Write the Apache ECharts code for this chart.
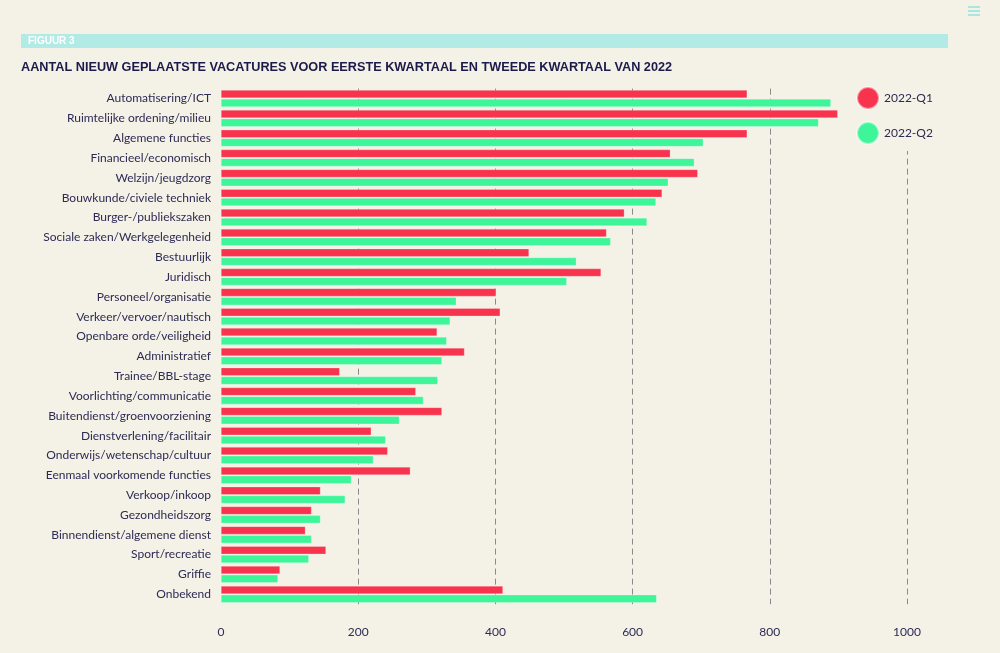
<!DOCTYPE html>
<html><head><meta charset="utf-8">
<script src="https://cdn.jsdelivr.net/npm/echarts@6/dist/echarts.min.js"></script>
<style>html,body{margin:0;padding:0;background:#f4f1e6;}#c{width:1000px;height:653px;}</style>
</head><body><div id="c"></div>
<script>
const categories = ["Automatisering/ICT","Ruimtelijke ordening/milieu","Algemene functies","Financieel/economisch","Welzijn/jeugdzorg","Bouwkunde/civiele techniek","Burger-/publiekszaken","Sociale zaken/Werkgelegenheid","Bestuurlijk","Juridisch","Personeel/organisatie","Verkeer/vervoer/nautisch","Openbare orde/veiligheid","Administratief","Trainee/BBL-stage","Voorlichting/communicatie","Buitendienst/groenvoorziening","Dienstverlening/facilitair","Onderwijs/wetenschap/cultuur","Eenmaal voorkomende functies","Verkoop/inkoop","Gezondheidszorg","Binnendienst/algemene dienst","Sport/recreatie","Griffie","Onbekend"];
const q1 = [767,899,767,655,695,643,588,562,449,554,401,407,315,355,173,284,322,219,243,276,145,132,123,153,86,411];
const q2 = [889,871,703,690,652,634,621,568,518,504,343,334,329,322,316,295,260,240,222,190,181,145,132,128,83,635];
const xTicks = [0,200,400,600,800,1000];
const seriesNames = ["2022-Q1","2022-Q2"];

const chart = echarts.init(document.getElementById('c'));
const textColor = '#2d2a55';
chart.setOption({
  backgroundColor: '#f4f1e6',
  animation: false,
  graphic: [
    {type:'rect', shape:{x:21,y:34,width:927,height:14}, style:{fill:'#b2ebe5'}},
    {type:'text', left:28, top:36, style:{text:'FIGUUR 3', fill:'#ffffff', font:'bold 10px "Liberation Sans", Arial', }},
    {type:'text', left:21, top:61, style:{text:'AANTAL NIEUW GEPLAATSTE VACATURES VOOR EERSTE KWARTAAL EN TWEEDE KWARTAAL VAN 2022', fill:'#1b1a4b', font:'bold 12.7px "Liberation Sans", Arial'}},
    {type:'rect', shape:{x:968,y:6,width:12,height:2}, style:{fill:'#a8e6df'}},
    {type:'rect', shape:{x:968,y:10,width:12,height:2}, style:{fill:'#a8e6df'}},
    {type:'rect', shape:{x:968,y:14,width:12,height:2}, style:{fill:'#a8e6df'}}
  ],
  legend: {
    data: seriesNames,
    orient: 'vertical',
    left: 852,
    top: 82,
    icon: 'circle',
    itemWidth: 22,
    itemHeight: 22,
    itemGap: 11,
    backgroundColor: '#f4f1e6',
    padding: [4, 14, 6, 4],
    textStyle: {color: textColor, fontSize: 12, fontFamily: 'Lato', padding:[0,0,0,0]}
  },
  grid: {left: 221, right: 93, top: 88.6, height: 515.6, containLabel: false},
  xAxis: {
    type: 'value', min: xTicks[0], max: xTicks[xTicks.length-1], interval: xTicks[1]-xTicks[0],
    axisLine: {show: false}, axisTick: {show: false},
    axisLabel: {color: textColor, fontSize: 12, fontFamily: 'Lato', margin: 22, formatter: v => String(v)},
    splitLine: {show: true, showMinLine: false, lineStyle: {color: '#8a8a8a', type: [6, 4], width: 1}}
  },
  yAxis: {
    type: 'category', data: categories, inverse: true,
    axisLine: {show: false}, axisTick: {show: false},
    axisLabel: {color: textColor, fontSize: 12, fontFamily: 'Lato', margin: 10}
  },
  series: [
    {name: seriesNames[0], type: 'bar', data: q1, barWidth: 8, barGap: '10%',
     itemStyle: {color: '#f7334d', borderColor: 'rgba(255,255,255,0.5)', borderWidth: 0.5}},
    {name: seriesNames[1], type: 'bar', data: q2, barWidth: 8,
     itemStyle: {color: '#3ef59a', borderColor: 'rgba(255,255,255,0.5)', borderWidth: 0.5}}
  ]
});
</script></body></html>
